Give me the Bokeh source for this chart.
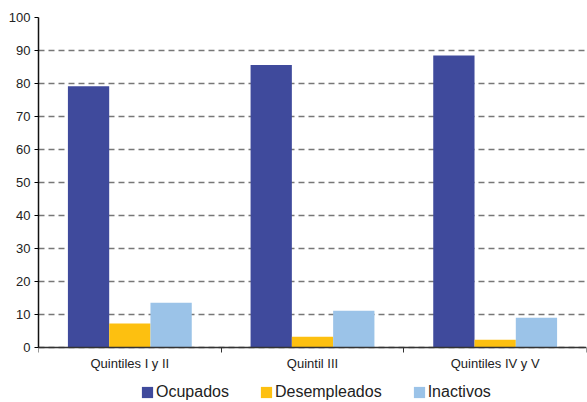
import numpy as np
from bokeh.plotting import figure
from bokeh.models import ColumnDataSource, FixedTicker, Legend, LegendItem, Range1d
from bokeh.embed import file_html
from bokeh.resources import INLINE

categories = ["Quintiles I y II", "Quintil III", "Quintiles IV y V"]
series_names = ["Ocupados", "Desempleados", "Inactivos"]
ocupados = [79.2, 85.6, 88.5]
desempleados = [7.3, 3.3, 2.4]
inactivos = [13.6, 11.2, 9.1]
colors = ["#3F4A9C", "#FDC010", "#9BC3E8"]

p = figure(frame_width=548, frame_height=384, output_backend="svg", toolbar_location=None,
           x_range=Range1d(0, 3), y_range=Range1d(-16.3, 100),
           min_border_left=38, min_border_right=1, min_border_top=17, min_border_bottom=0)
p.outline_line_color = None

bw = 0.226
centers = np.arange(len(categories)) + 0.5
renderers = []
for i, (vals, col) in enumerate(zip([ocupados, desempleados, inactivos], colors)):
    src = ColumnDataSource(dict(x=centers + (i - 1) * bw, top=vals))
    r = p.vbar(x="x", top="top", bottom=0, width=bw, source=src, fill_color=col, line_color=None)
    renderers.append(r)

p.xaxis.fixed_location = 0
p.xaxis.ticker = FixedTicker(ticks=list(centers), minor_ticks=[0, 1, 2, 3])
p.xaxis.major_label_overrides = {float(c): lab for c, lab in zip(centers, categories)}
p.xaxis.major_tick_line_color = None
p.xaxis.major_tick_out = 5
p.xaxis.minor_tick_out = 5
p.xaxis.minor_tick_in = 0
p.xaxis.minor_tick_line_color = "#333333"
p.xaxis.axis_line_color = "#333333"
p.xaxis.axis_line_width = 1.5
p.xaxis.major_label_text_font = "Liberation Sans"
p.xaxis.major_label_text_font_size = "13px"
p.xaxis.major_label_text_color = "#222222"
p.xaxis.major_label_standoff = 3

p.yaxis.bounds = (0, 100)
p.yaxis.ticker = FixedTicker(ticks=list(range(0, 101, 10)))
p.yaxis.minor_tick_line_color = None
p.yaxis.major_tick_out = 4
p.yaxis.major_tick_in = 0
p.yaxis.axis_line_color = "#111111"
p.yaxis.axis_line_width = 1.5
p.yaxis.major_label_text_font = "Liberation Sans"
p.yaxis.major_label_text_font_size = "13px"
p.yaxis.major_label_text_color = "#222222"
p.yaxis.major_label_standoff = 4

p.xgrid.grid_line_color = None
p.ygrid.grid_line_color = "#777777"
p.ygrid.grid_line_dash = "6 4"
p.ygrid.grid_line_width = 1.5

legend = Legend(items=[LegendItem(label=n, renderers=[r]) for n, r in zip(series_names, renderers)],
                orientation="horizontal", location=(102, 0),
                label_text_font="Liberation Sans", label_text_font_size="16px",
                label_text_color="#222222", glyph_width=14, glyph_height=14,
                label_standoff=2, spacing=30, padding=0, margin=0,
                label_height=17, border_line_color=None, background_fill_alpha=0)
p.add_layout(legend, "center")

open("out.html", "w").write(file_html(p, INLINE))
